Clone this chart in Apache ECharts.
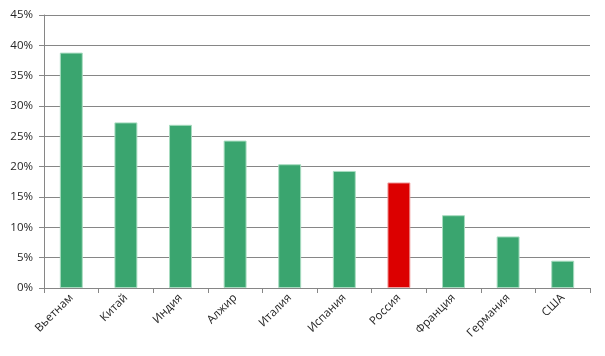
<!DOCTYPE html>
<html><head><meta charset="utf-8">
<script src="https://cdn.jsdelivr.net/npm/echarts@6/dist/echarts.min.js"></script>
<style>html,body{margin:0;padding:0;background:#fff}#c{width:605px;height:356px}</style>
</head><body><div id="c"></div>
<script>
const categories = ['Вьетнам','Китай','Индия','Алжир','Италия','Испания','Россия','Франция','Германия','США'];
const values = [38.8, 27.3, 26.9, 24.3, 20.4, 19.3, 17.4, 12.0, 8.5, 4.5];
const highlight = 'Россия';

const chart = echarts.init(document.getElementById('c'), null, {renderer:'canvas'});
chart.setOption({
  animation:false,
  backgroundColor:'#fff',
  grid:{left:44,right:15,top:15,bottom:68},
  xAxis:{type:'category',data:categories,boundaryGap:true,
    axisLine:{lineStyle:{color:'#868686',width:1}},
    axisTick:{show:true,length:5,alignWithLabel:false,lineStyle:{color:'#868686'}},
    axisLabel:{rotate:45,interval:0,fontFamily:'Open Sans, Liberation Sans, Arial',fontSize:11.5,color:'#262626',margin:8}},
  yAxis:{type:'value',min:0,max:45,interval:5,
    axisLine:{show:true,lineStyle:{color:'#868686'}},
    axisTick:{show:true,length:5,lineStyle:{color:'#868686'}},
    splitLine:{lineStyle:{color:'#868686',width:1}},
    axisLabel:{formatter:v=>v+'%',fontFamily:'Open Sans, Liberation Sans, Arial',fontSize:11.5,color:'#262626',margin:11}},
  series:[{type:'bar',barWidth:'42%',
    data:values.map((v,i)=>({value:v,itemStyle:categories[i]===highlight?{color:'#dc0000',borderColor:'#f0a0a0',borderWidth:1}:{color:'#3aa56f',borderColor:'#a8dcc0',borderWidth:1}}))
  }]
});
</script></body></html>
